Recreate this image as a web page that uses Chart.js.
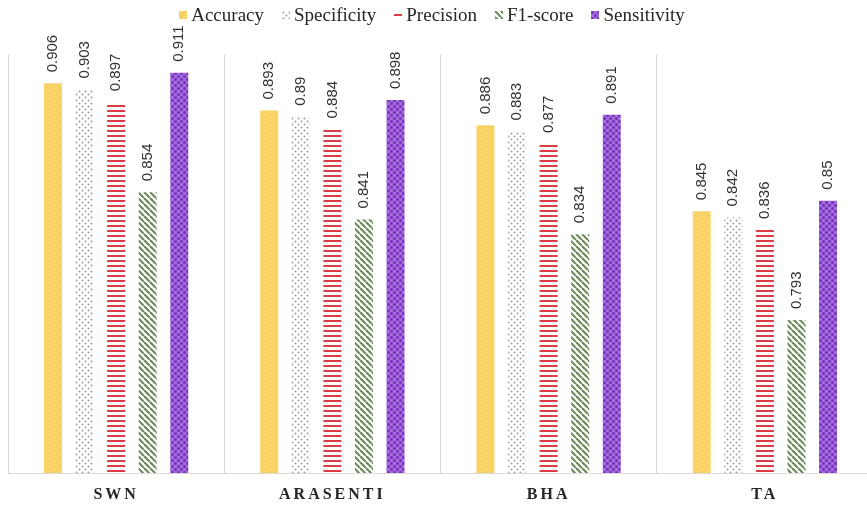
<!DOCTYPE html>
<html><head><meta charset="utf-8">
<script src="https://cdn.jsdelivr.net/npm/chart.js@4"></script>
<style>
html,body{margin:0;padding:0;background:#fff;overflow:hidden;}
#wrap{width:874px;height:508px;}
</style></head><body>
<div id="wrap"><canvas id="c" width="874" height="508"></canvas></div>
<script>
// Data
const categories = ['SWN', 'ARASENTI', 'BHA', 'TA'];
const seriesNames = ['Accuracy', 'Specificity', 'Precision', 'F1-score', 'Sensitivity'];
const accuracy    = [0.906, 0.893, 0.886, 0.845];
const specificity = [0.903, 0.89,  0.883, 0.842];
const precision   = [0.897, 0.884, 0.877, 0.836];
const f1score     = [0.854, 0.841, 0.834, 0.793];
const sensitivity = [0.911, 0.898, 0.891, 0.85];
const axisMin = 0.72, axisMax = 0.92;

const canvas = document.getElementById('c');
const ctx = canvas.getContext('2d');

// Fill patterns for each series
function makePattern(w, h, paint) {
  const t = document.createElement('canvas');
  t.width = w; t.height = h;
  const g = t.getContext('2d');
  paint(g, w, h);
  return ctx.createPattern(t, 'repeat');
}
const patAccuracy = makePattern(8, 8, (g, w, h) => {
  g.fillStyle = '#F8D264'; g.fillRect(0, 0, w, h);
  g.fillStyle = '#FDEDB8';
  g.fillRect(1, 1, 1, 1); g.fillRect(5, 5, 1, 1);
});
const patSpecificity = makePattern(6, 6, (g, w, h) => {
  g.fillStyle = '#FFFFFF'; g.fillRect(0, 0, w, h);
  g.fillStyle = '#9C9C9C';
  g.beginPath(); g.arc(1.5, 1.5, 1.0, 0, Math.PI * 2); g.fill();
  g.beginPath(); g.arc(4.5, 4.5, 1.0, 0, Math.PI * 2); g.fill();
});
const patPrecision = makePattern(4, 5, (g, w, h) => {
  g.fillStyle = '#FFFFFF'; g.fillRect(0, 0, w, h);
  g.fillStyle = '#DA3D43'; g.fillRect(0, 0, w, 2);
});
const patF1 = makePattern(6, 6, (g, w, h) => {
  g.fillStyle = '#FFFFFF'; g.fillRect(0, 0, w, h);
  g.strokeStyle = '#6F8A5C'; g.lineWidth = 2.2;
  for (let o = -w; o <= w; o += w) {
    g.beginPath(); g.moveTo(o, 0); g.lineTo(o + w, h); g.stroke();
  }
});
const patSensitivity = makePattern(6, 6, (g, w, h) => {
  g.fillStyle = '#A36EDB'; g.fillRect(0, 0, w, h);
  g.fillStyle = '#7A36BE';
  g.beginPath(); g.arc(1.5, 1.5, 1.6, 0, Math.PI * 2); g.fill();
  g.beginPath(); g.arc(4.5, 4.5, 1.6, 0, Math.PI * 2); g.fill();
});

const seriesValues = [accuracy, specificity, precision, f1score, sensitivity];
const seriesFills = [patAccuracy, patSpecificity, patPrecision, patF1, patSensitivity];

// Value labels written vertically above each bar
const valueLabels = {
  id: 'valueLabels',
  afterDatasetsDraw(chart) {
    const c = chart.ctx;
    chart.data.datasets.forEach((ds, i) => {
      chart.getDatasetMeta(i).data.forEach((bar, j) => {
        c.save();
        c.translate(bar.x, bar.y - 11);
        c.rotate(-Math.PI / 2);
        c.font = '15px "Liberation Sans", Arial, sans-serif';
        c.fillStyle = '#333333';
        c.textAlign = 'left';
        c.textBaseline = 'middle';
        c.fillText(String(ds.data[j]), 0, 0);
        c.restore();
      });
    });
  }
};

// Spaced-out category names on the x axis
const spacedTicks = {
  id: 'spacedTicks',
  beforeDraw(chart) { chart.ctx.letterSpacing = '3px'; },
  beforeDatasetsDraw(chart) { chart.ctx.letterSpacing = '0px'; }
};

// Legend row across the top
const topLegend = {
  id: 'topLegend',
  afterDraw(chart) {
    const c = chart.ctx;
    c.save();
    c.font = '19px "Liberation Serif", "Times New Roman", serif';
    c.textBaseline = 'middle';
    const box = 8, gapBox = 4, gapItem = 18;
    const items = chart.data.datasets.map(ds => ({ label: ds.label, fill: ds.backgroundColor, w: c.measureText(ds.label).width }));
    const total = items.reduce((s, it) => s + box + gapBox + it.w, 0) + gapItem * (items.length - 1);
    let x = 432 - total / 2;
    const y = 15;
    items.forEach((it, k) => {
      c.save();
      c.translate(Math.round(x), Math.round(y - box / 2));
      if (k === 2) {
        c.fillStyle = '#DA3D43';
        c.fillRect(0, 3, box, 2);
      } else {
        c.fillStyle = it.fill;
        c.fillRect(0, 0, box, box);
      }
      c.restore();
      x += box + gapBox;
      c.fillStyle = '#262626';
      c.fillText(it.label, x, y + 1);
      x += it.w + gapItem;
    });
    c.restore();
  }
};

new Chart(canvas, {
  type: 'bar',
  data: {
    labels: categories,
    datasets: seriesNames.map((name, i) => ({
      label: name,
      data: seriesValues[i],
      backgroundColor: seriesFills[i],
      borderWidth: 0,
      barPercentage: 0.57,
      categoryPercentage: 0.73
    }))
  },
  options: {
    responsive: false,
    animation: false,
    layout: { padding: { top: 54, left: 8, right: 1, bottom: 0 } },
    scales: {
      x: {
        grid: { color: '#D9D9D9', offset: true, drawTicks: false, lineWidth: 1 },
        border: { color: '#D9D9D9', width: 1 },
        ticks: {
          color: '#262626',
          padding: 12,
          font: { family: '"Liberation Serif", "Times New Roman", serif', size: 16, weight: 'bold' }
        },
        afterFit(scale) { scale.height = 35; }
      },
      y: { display: false, min: axisMin, max: axisMax }
    },
    plugins: { legend: { display: false }, tooltip: { enabled: false } }
  },
  plugins: [spacedTicks, valueLabels, topLegend]
});
</script>
</body></html>
